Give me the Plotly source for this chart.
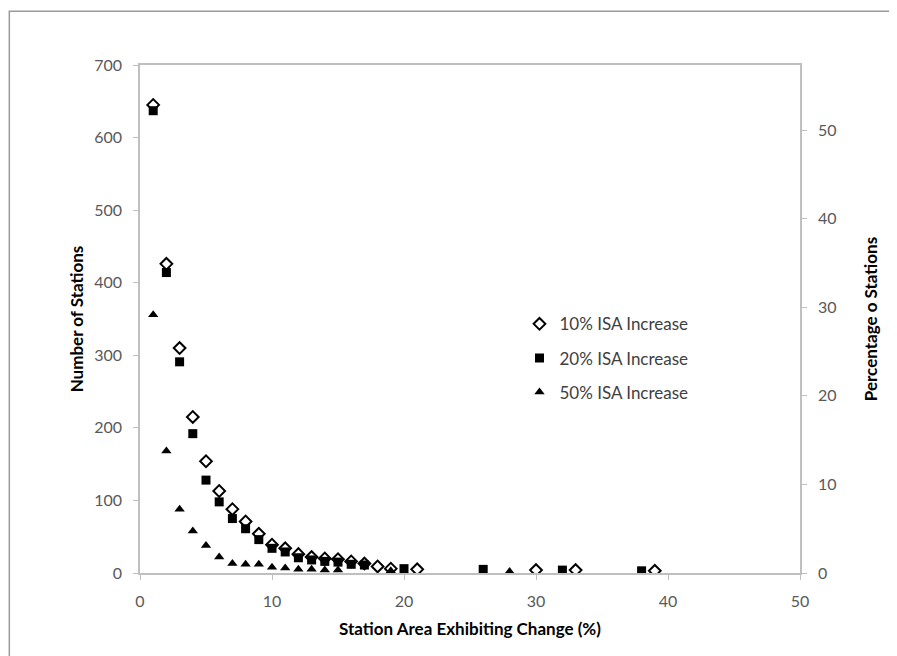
import plotly.graph_objects as go

# Data
x10 = [1, 2, 3, 4, 5, 6, 7, 8, 9, 10, 11, 12, 13, 14, 15, 16, 17, 18, 19, 21, 30, 33, 39]
y10 = [645, 426, 310, 215, 154, 113, 88, 71, 54, 39, 34, 26, 22, 20, 19, 16, 13, 9, 6, 5, 4, 4, 3]

x20 = [1, 2, 3, 4, 5, 6, 7, 8, 9, 10, 11, 12, 13, 14, 15, 16, 17, 20, 26, 32, 38]
y20 = [637, 414, 291, 192, 128, 98, 75, 61, 46, 34, 29, 21, 18, 16, 15, 12, 11, 6, 5, 4, 3]

x50 = [1, 2, 3, 4, 5, 6, 7, 8, 9, 10, 11, 12, 13, 14, 15, 19, 28]
y50 = [356, 168, 88, 58, 38, 22, 13, 12, 12, 8, 7, 5, 5, 4, 4, 3, 2]

names = ["10% ISA Increase", "20% ISA Increase", "50% ISA Increase"]

left_ticks = [0, 100, 200, 300, 400, 500, 600, 700]
right_ticks = [0, 10, 20, 30, 40, 50]
x_ticks = [0, 10, 20, 30, 40, 50]

FONT = "Lato"
AXIS_COLOR = "#bfbfbf"
TICK_FONT = dict(family=FONT, size=16, color="#595959")
TITLE_FONT = dict(family=FONT, size=17, color="#000000")

fig = go.Figure()
fig.add_trace(go.Scatter(
    x=x10, y=y10, mode="markers", name=names[0], legendgroup="a",
    marker=dict(symbol="diamond-open", size=9, color="black", line=dict(width=2, color="black")),
))
fig.add_trace(go.Scatter(
    x=x20, y=y20, mode="markers", name=names[1], legendgroup="b",
    marker=dict(symbol="square", size=9, color="black"),
))
fig.add_trace(go.Scatter(
    x=x50, y=y50, mode="markers", name=names[2], legendgroup="c",
    marker=dict(symbol="triangle-up", size=9, color="black"),
))
# secondary (percentage) axis holder
fig.add_trace(go.Scatter(x=[], y=[], yaxis="y2", showlegend=False, hoverinfo="skip"))

fig.update_layout(
    width=897, height=656,
    margin=dict(l=132, r=105, t=57, b=91),
    paper_bgcolor="white", plot_bgcolor="white",
    showlegend=True,
    legend=dict(
        x=0.575, y=0.525, xanchor="left", yanchor="top",
        font=dict(family=FONT, size=17, color="#404040"),
        bgcolor="rgba(0,0,0,0)", itemwidth=30,
        traceorder="grouped", tracegroupgap=9,
    ),
    xaxis=dict(
        range=[0, 50], tickvals=x_ticks, showgrid=False, zeroline=False,
        showline=True, linecolor=AXIS_COLOR, linewidth=1.5, mirror=True,
        ticks="outside", ticklen=5, tickcolor=AXIS_COLOR,
        tickfont=TICK_FONT, ticklabelstandoff=8,
        title=dict(text="<b>Station Area Exhibiting Change (%)</b>", font=TITLE_FONT, standoff=14),
    ),
    yaxis=dict(
        range=[0, 700], tickvals=left_ticks, showgrid=False, zeroline=False,
        showline=True, linecolor=AXIS_COLOR, linewidth=1.5, mirror=True,
        ticks="outside", ticklen=5, tickcolor=AXIS_COLOR,
        tickfont=TICK_FONT, ticklabelstandoff=8,
        title=dict(text="<b>Number of Stations</b>", font=TITLE_FONT, standoff=6),
    ),
    yaxis2=dict(
        range=[0, 57.34], tickvals=right_ticks, overlaying="y", side="right", anchor="x",
        showgrid=False, zeroline=False, showline=True, linecolor=AXIS_COLOR, linewidth=1.5,
        ticks="outside", ticklen=5, tickcolor=AXIS_COLOR,
        tickfont=TICK_FONT, ticklabelstandoff=8,
        title=dict(text="<b>Percentage o Stations</b>", font=TITLE_FONT, standoff=30),
    ),
    shapes=[dict(
        type="rect", xref="paper", yref="paper",
        x0=-0.198, x1=1.25, y0=-0.3, y1=1.106,
        line=dict(color="#9a9a9a", width=1.5), fillcolor="rgba(0,0,0,0)", layer="below",
    )],
)

fig.write_html("out.html")
